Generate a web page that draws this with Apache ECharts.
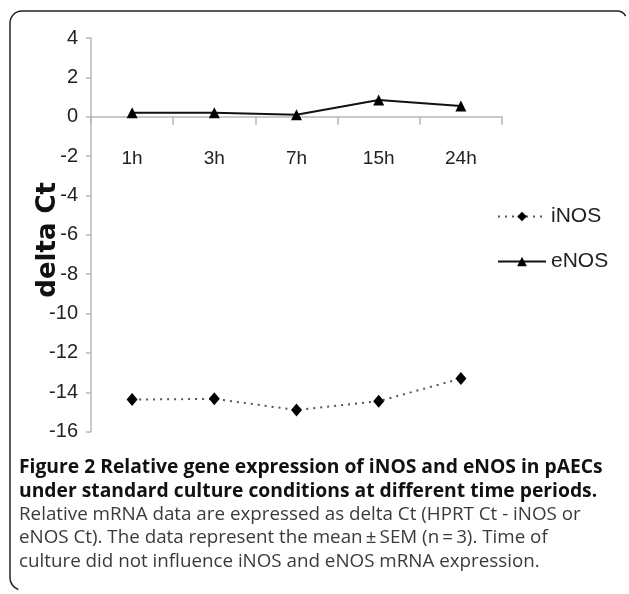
<!DOCTYPE html>
<html>
<head>
<meta charset="utf-8">
<script src="https://cdn.jsdelivr.net/npm/echarts@6/dist/echarts.min.js"></script>
<style>
html,body{margin:0;padding:0;background:#fff;}
#c{width:629px;height:594px;}
</style>
</head>
<body>
<div id="c"></div>
<script>
const categories = ['1h', '3h', '7h', '15h', '24h'];
const iNOS = [-14.37, -14.33, -14.9, -14.45, -13.3];
const eNOS = [0.2, 0.2, 0.1, 0.85, 0.55];
const yMin = -16, yMax = 4, yStep = 2;
const captionLines = [
  {text: 'Figure 2 Relative gene expression of iNOS and eNOS in pAECs', bold: true},
  {text: 'under standard culture conditions at different time periods.', bold: true},
  {text: 'Relative mRNA data are expressed as delta Ct (HPRT Ct - iNOS or', bold: false},
  {text: 'eNOS Ct). The data represent the mean\u2009\u00b1\u2009SEM (n\u2009=\u20093). Time of', bold: false},
  {text: 'culture did not influence iNOS and eNOS mRNA expression.', bold: false}
];

const axisFont = '"Liberation Sans Narrow", "Arial Narrow", "Liberation Sans", Arial, sans-serif';
const chart = echarts.init(document.getElementById('c'), null, {renderer: 'canvas'});

const gridTop = 38, gridBottom = 162.3, H = 594;
const plotH = H - gridTop - gridBottom;
const zeroY = gridTop + plotH * (yMax - 0) / (yMax - yMin);

const frameColor = '#222';
const graphics = [
  {type: 'line', shape: {x1: 22, y1: 11, x2: 617, y2: 11}, style: {stroke: frameColor, lineWidth: 1.5}},
  {type: 'arc', shape: {cx: 22, cy: 23, r: 12, startAngle: Math.PI, endAngle: Math.PI * 1.5}, style: {stroke: frameColor, lineWidth: 1.5, fill: null}},
  {type: 'arc', shape: {cx: 617, cy: 21, r: 10, startAngle: -Math.PI / 2, endAngle: -Math.PI / 6}, style: {stroke: frameColor, lineWidth: 1.5, fill: null}},
  {type: 'line', shape: {x1: 10, y1: 23, x2: 10, y2: 578}, style: {stroke: frameColor, lineWidth: 1.5}},
  {type: 'arc', shape: {cx: 22, cy: 578, r: 12, startAngle: Math.PI * 0.6, endAngle: Math.PI}, style: {stroke: frameColor, lineWidth: 1.5, fill: null}}
];
captionLines.forEach((l, i) => {
  graphics.push({
    type: 'text', x: 19, y: 468 + i * 23.3,
    style: {
      text: l.text,
      font: (l.bold ? 'bold 19.3px' : '18.8px') + ' "Open Sans", sans-serif',
      fill: l.bold ? '#111' : '#3a3a3a',
      verticalAlign: 'middle', align: 'left'
    }
  });
});

chart.setOption({
  animation: false,
  backgroundColor: '#fff',
  grid: {left: 91, right: 127, top: gridTop, bottom: gridBottom, containLabel: false},
  legend: {
    orient: 'vertical', left: 492, top: 201, itemGap: 24, itemWidth: 48, itemHeight: 12,
    textStyle: {fontFamily: axisFont, fontSize: 21, color: '#222'},
    data: ['iNOS', 'eNOS']
  },
  xAxis: [
    {
      type: 'category', data: categories, boundaryGap: true,
      axisLine: {onZero: true, lineStyle: {color: '#b8b8b8', width: 1.5}},
      axisTick: {show: true, length: 8, lineStyle: {color: '#b8b8b8', width: 1.5}},
      axisLabel: {show: false}
    },
    {
      type: 'category', data: categories, boundaryGap: true,
      position: 'top', offset: -(zeroY - gridTop),
      axisLine: {show: false}, axisTick: {show: false},
      axisLabel: {inside: true, margin: 33, fontFamily: axisFont, fontSize: 19, color: '#222'}
    }
  ],
  yAxis: {
    type: 'value', min: yMin, max: yMax, interval: yStep,
    name: 'delta Ct', nameLocation: 'middle', nameGap: 30, nameRotate: 90,
    nameMoveOverlap: false,
    nameTextStyle: {fontFamily: '"DejaVu Sans", sans-serif', fontWeight: 'bold', fontSize: 26, color: '#111', padding: [0, 10, 0, 0]},
    splitLine: {show: false},
    axisLine: {show: true, lineStyle: {color: '#b8b8b8', width: 1.5}},
    axisTick: {show: true, length: 5, lineStyle: {color: '#b8b8b8', width: 1.5}},
    axisLabel: {margin: 13, fontFamily: axisFont, fontSize: 20, color: '#222'}
  },
  series: [
    {
      name: 'iNOS', type: 'line', data: iNOS, xAxisIndex: 0,
      symbol: 'diamond', symbolSize: [11, 13],
      itemStyle: {color: '#000'},
      lineStyle: {color: '#555', width: 2, type: [2, 5]}
    },
    {
      name: 'eNOS', type: 'line', data: eNOS, xAxisIndex: 0,
      symbol: 'triangle', symbolSize: [11, 11],
      itemStyle: {color: '#000'},
      lineStyle: {color: '#111', width: 2, type: 'solid'}
    }
  ],
  graphic: graphics
});
</script>
</body>
</html>
